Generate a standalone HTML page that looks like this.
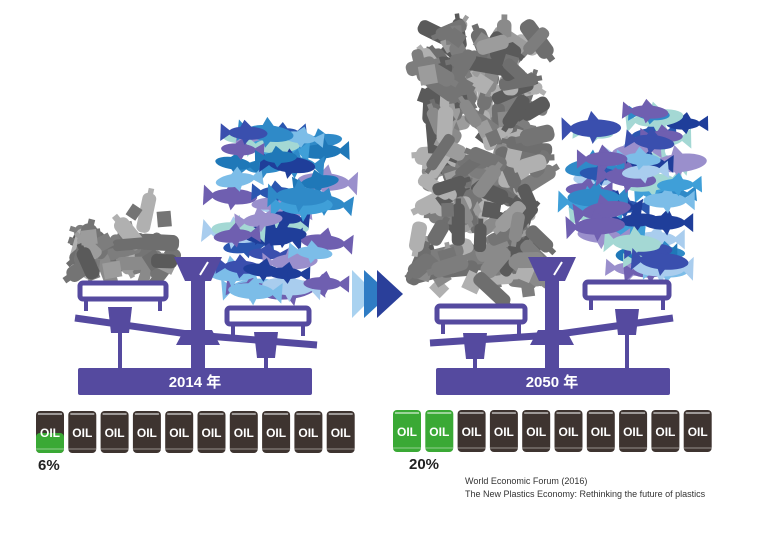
<!DOCTYPE html>
<html><head><meta charset="utf-8"><style>
html,body{margin:0;padding:0;background:#fff;}
svg{display:block;}
</style></head><body>
<svg id="s" width="780" height="551" viewBox="0 0 780 551" xmlns="http://www.w3.org/2000/svg">
<g id="piles"></g>
<!-- arrows -->
<polygon points="352,270 376,294 352,318" fill="#a9d2f0"/>
<polygon points="364,270 390,294 364,318" fill="#2f7cc4"/>
<polygon points="377,270 403,294 377,318" fill="#2a3f9a"/>
<g id="scales" fill="#554a9f" stroke="none"></g>
<g font-family="'Liberation Sans','Noto Sans CJK JP',sans-serif" font-weight="bold" fill="#fff" font-size="15">
<text x="195" y="387" text-anchor="middle">2014 年</text>
<text x="552" y="387" text-anchor="middle">2050 年</text>
</g>
<g id="barrels"></g>
<g font-family="'Liberation Sans',sans-serif" font-weight="bold" fill="#222" font-size="15">
<text x="38" y="470">6%</text>
<text x="409" y="469">20%</text>
</g>
<g font-family="'Liberation Sans',sans-serif" fill="#333" font-size="9">
<text x="465" y="484">World Economic Forum (2016)</text>
<text x="465" y="497">The New Plastics Economy: Rethinking the future of plastics</text>
</g>
</svg>
<script>
var NS="http://www.w3.org/2000/svg";
function el(p,t,a){var e=document.createElementNS(NS,t);for(var k in a)e.setAttribute(k,a[k]);p.appendChild(e);return e;}
var seed=11;function r(){seed=(seed*16807)%2147483647;return seed/2147483647;}
var piles=document.getElementById('piles');
var grays=['#5a5a5a','#6e6e6e','#7d7d7d','#8a8a8a','#9c9c9c','#b0b0b0','#747474'];
function plastic(x0,y0,x1,y1,n){
 for(var i=0;i<n;i++){
  var x=x0+r()*(x1-x0),y=y0+r()*(y1-y0);
  var g=el(piles,'g',{transform:'translate('+x.toFixed(1)+','+y.toFixed(1)+') rotate('+(r()*360).toFixed(0)+')'});
  var c=grays[Math.floor(r()*grays.length)];
  if(r()<0.65){var L=26+r()*18,W=11+r()*6;
   el(g,'rect',{x:-L/2,y:-W/2,width:L,height:W,rx:W/2.5,fill:c});
   el(g,'rect',{x:L/2-1,y:-W/5,width:6,height:W/2.5,fill:c});}
  else{var s=11+r()*8;el(g,'rect',{x:-s/2,y:-s/2,width:s,height:s*0.9,fill:c});}
 }
}
var blues=['#1f3e9a','#2a56b0','#2f8ac8','#3f9fd8','#7cbde8','#a9cdee','#6f5fb0','#9a8fcc','#a4d8d4','#3a4fae','#1f78b8'];
function fish(x0,y0,x1,y1,n){
 for(var i=0;i<n;i++){
  var x=x0+r()*(x1-x0),y=y0+r()*(y1-y0);
  var c=blues[Math.floor(r()*blues.length)],L=32+r()*22,H=L*0.34;
  var flip=r()<0.5?-1:1;
  var g=el(piles,'g',{transform:'translate('+x.toFixed(1)+','+y.toFixed(1)+') scale('+flip+',1) rotate('+((r()-0.5)*16).toFixed(0)+')'});
  el(g,'ellipse',{cx:0,cy:0,rx:L/2,ry:H/2,fill:c});
  el(g,'polygon',{points:(L/2-4)+',0 '+(L/2+8)+','+(-H/1.5)+' '+(L/2+8)+','+(H/1.5),fill:c});
  el(g,'polygon',{points:'-4,'+(-H/2+1)+' 4,'+(-H)+' 8,'+(-H/2+1),fill:c});
  el(g,'polygon',{points:'-2,'+(H/2-1)+' 3,'+(H*0.9)+' 6,'+(H/2-1),fill:c});
 }
}
plastic(78,212,170,275,45);
plastic(418,30,540,290,230);
fish(230,130,325,292,50);
fish(585,105,685,275,55);

var sc=document.getElementById('scales');
function scale(bx,beam,lp,rp,lcup,rcup,dialx){
 el(sc,'rect',{x:bx,y:368,width:234,height:27,rx:2});
 el(sc,'polyline',{points:beam,fill:'none',stroke:'#554a9f','stroke-width':7,'stroke-linejoin':'round'});
 el(sc,'rect',{x:dialx-7,y:265,width:14,height:104});
 el(sc,'polygon',{points:(dialx-24)+',257 '+(dialx+24)+',257 '+(dialx+13)+',281 '+(dialx-13)+',281'});
 el(sc,'line',{x1:dialx+2,y1:275,x2:dialx+10,y2:262,stroke:'#fff','stroke-width':2});
 el(sc,'polygon',{points:(dialx-14)+',330 '+(dialx+14)+',330 '+(dialx+22)+',345 '+(dialx-22)+',345'});
 [lp,rp].forEach(function(p){
  el(sc,'rect',{x:p[0],y:p[1],width:p[2],height:16,rx:3,fill:'#fff',stroke:'#554a9f','stroke-width':5});
  el(sc,'rect',{x:p[0]+4,y:p[1]+16,width:4,height:12});
  el(sc,'rect',{x:p[0]+p[2]-8,y:p[1]+16,width:4,height:12});
 });
 [lcup,rcup].forEach(function(c){
  el(sc,'polygon',{points:(c[0]-12)+','+c[1]+' '+(c[0]+12)+','+c[1]+' '+(c[0]+9)+','+(c[1]+26)+' '+(c[0]-9)+','+(c[1]+26)});
  el(sc,'rect',{x:c[0]-2,y:c[1]+24,width:4,height:368-c[1]-24});
 });
}
scale(78,'75,318 195,335 317,345',[80,283,86],[227,308,82],[120,307],[266,332],198);
scale(436,'430,343 552,335 673,318',[437,306,88],[585,282,84],[475,333],[627,309],552);

var b=document.getElementById('barrels');
function barrel(x,y,green){
 var c=green?'#3aa935':'#3e3430';
 if(green==='part'){
  el(b,'rect',{x:x,y:y,width:28,height:42,rx:4,fill:'#3e3430'});
  el(b,'rect',{x:x,y:y+22,width:28,height:20,rx:4,fill:'#3aa935'});
 } else el(b,'rect',{x:x,y:y,width:28,height:42,rx:4,fill:c});
 el(b,'line',{x1:x+2,y1:y+3,x2:x+26,y2:y+3,stroke:'#fff','stroke-width':1});
 el(b,'line',{x1:x,y1:y+38,x2:x+28,y2:y+38,stroke:'#fff','stroke-width':0.8,opacity:0.6});
 var t=el(b,'text',{x:x+14,y:y+26,'text-anchor':'middle','font-family':'Liberation Sans, sans-serif','font-weight':'bold','font-size':12,fill:'#fff'});
 t.textContent='OIL';
}
for(var i=0;i<10;i++){barrel(36+i*32.3,411,i==0?'part':false);}
for(var i=0;i<10;i++){barrel(393+i*32.3,410,i<2);}
</script>
</body></html>
